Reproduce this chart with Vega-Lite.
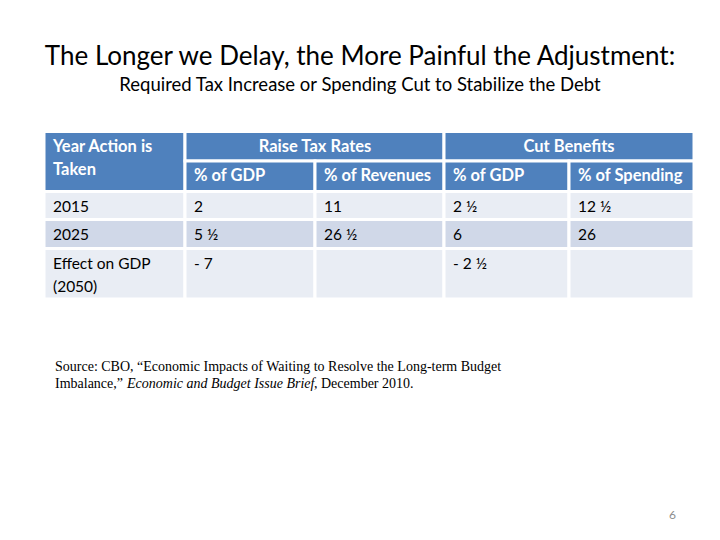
{
  "$schema": "https://vega.github.io/schema/vega-lite/v6.json",
  "width": 720,
  "height": 440,
  "autosize": "none",
  "padding": {"top": 100, "left": 0, "right": 0, "bottom": 0},
  "background": "white",
  "config": {"view": {"stroke": null}, "font": "Lato"},
  "title": {
    "text": "The Longer we Delay, the More Painful the Adjustment:",
    "subtitle": "Required Tax Increase or Spending Cut to Stabilize the Debt",
    "anchor": "middle",
    "frame": "group",
    "font": "Lato",
    "fontSize": 26,
    "fontWeight": "normal",
    "color": "#000000",
    "subtitleFont": "Lato",
    "subtitleFontSize": 18.5,
    "subtitleColor": "#000000",
    "subtitlePadding": 6,
    "offset": 6
  },
  "datasets": {
    "cells": [
      {"r0": 0, "r1": 2, "c0": 0, "c1": 1, "cx": 0, "band": "head", "pos": "left", "label": ["Year Action is", "Taken"]},
      {"r0": 0, "r1": 1, "c0": 1, "c1": 3, "cx": 2, "band": "head", "pos": "center", "label": "Raise Tax Rates"},
      {"r0": 0, "r1": 1, "c0": 3, "c1": 5, "cx": 4, "band": "head", "pos": "center", "label": "Cut Benefits"},
      {"r0": 1, "r1": 2, "c0": 1, "c1": 2, "cx": 1, "band": "head", "pos": "left", "label": "% of GDP"},
      {"r0": 1, "r1": 2, "c0": 2, "c1": 3, "cx": 2, "band": "head", "pos": "left", "label": "% of Revenues"},
      {"r0": 1, "r1": 2, "c0": 3, "c1": 4, "cx": 3, "band": "head", "pos": "left", "label": "% of GDP"},
      {"r0": 1, "r1": 2, "c0": 4, "c1": 5, "cx": 4, "band": "head", "pos": "left", "label": "% of Spending"},
      {"r0": 2, "r1": 3, "c0": 0, "c1": 1, "cx": 0, "band": "light", "pos": "left", "label": "2015"},
      {"r0": 2, "r1": 3, "c0": 1, "c1": 2, "cx": 1, "band": "light", "pos": "left", "label": "2"},
      {"r0": 2, "r1": 3, "c0": 2, "c1": 3, "cx": 2, "band": "light", "pos": "left", "label": "11"},
      {"r0": 2, "r1": 3, "c0": 3, "c1": 4, "cx": 3, "band": "light", "pos": "left", "label": "2 ½"},
      {"r0": 2, "r1": 3, "c0": 4, "c1": 5, "cx": 4, "band": "light", "pos": "left", "label": "12 ½"},
      {"r0": 3, "r1": 4, "c0": 0, "c1": 1, "cx": 0, "band": "dark", "pos": "left", "label": "2025"},
      {"r0": 3, "r1": 4, "c0": 1, "c1": 2, "cx": 1, "band": "dark", "pos": "left", "label": "5 ½"},
      {"r0": 3, "r1": 4, "c0": 2, "c1": 3, "cx": 2, "band": "dark", "pos": "left", "label": "26 ½"},
      {"r0": 3, "r1": 4, "c0": 3, "c1": 4, "cx": 3, "band": "dark", "pos": "left", "label": "6"},
      {"r0": 3, "r1": 4, "c0": 4, "c1": 5, "cx": 4, "band": "dark", "pos": "left", "label": "26"},
      {"r0": 4, "r1": 5, "c0": 0, "c1": 1, "cx": 0, "band": "light", "pos": "left", "label": ["Effect on GDP", "(2050)"]},
      {"r0": 4, "r1": 5, "c0": 1, "c1": 2, "cx": 1, "band": "light", "pos": "left", "label": "- 7"},
      {"r0": 4, "r1": 5, "c0": 2, "c1": 3, "cx": 2, "band": "light", "pos": "left", "label": ""},
      {"r0": 4, "r1": 5, "c0": 3, "c1": 4, "cx": 3, "band": "light", "pos": "left", "label": "- 2 ½"},
      {"r0": 4, "r1": 5, "c0": 4, "c1": 5, "cx": 4, "band": "light", "pos": "left", "label": ""}
    ],
    "notes": [
      {"line": 6, "col": 0, "seg": "a", "label": "Source:  CBO, “Economic Impacts of Waiting to Resolve the Long-term Budget"},
      {"line": 7, "col": 0, "seg": "a", "label": "Imbalance,”"},
      {"line": 7, "col": 0, "seg": "b", "label": "Economic and Budget Issue Brief"},
      {"line": 7, "col": 0, "seg": "c", "label": ", December 2010."},
      {"line": 8, "col": 5, "seg": "page", "label": "6"}
    ]
  },
  "resolve": {"scale": {"x": "shared", "y": "shared"}},
  "layer": [
    {
      "data": {"name": "cells"},
      "mark": {"type": "rect", "stroke": "white", "strokeWidth": 3},
      "encoding": {
        "x": {"field": "c0", "type": "quantitative", "axis": null,
              "scale": {"domain": [0, 1, 2, 3, 4, 5], "range": [44, 185, 315, 444, 569, 694], "zero": false, "nice": false}},
        "x2": {"field": "c1"},
        "y": {"field": "r0", "type": "quantitative", "axis": null,
              "scale": {"domain": [0, 1, 2, 3, 4, 5, 6, 7, 8], "range": [31.5, 61, 91.5, 119.5, 148.5, 199, 271, 288, 419], "zero": false, "nice": false}},
        "y2": {"field": "r1"},
        "color": {"field": "band", "type": "nominal", "legend": null,
                  "scale": {"domain": ["head", "light", "dark"], "range": ["#4F81BD", "#E9EDF4", "#D0D8E8"]}}
      }
    },
    {
      "data": {"name": "cells"},
      "transform": [{"filter": "datum.band === 'head' && datum.pos === 'left'"}],
      "mark": {"type": "text", "align": "left", "baseline": "alphabetic", "dx": 9, "dy": 20, "fontSize": 16.5, "fontWeight": "bold", "color": "white", "lineHeight": 23, "font": "Lato"},
      "encoding": {
        "x": {"field": "c0", "type": "quantitative"},
        "y": {"field": "r0", "type": "quantitative"},
        "text": {"field": "label"}
      }
    },
    {
      "data": {"name": "cells"},
      "transform": [{"filter": "datum.pos === 'center'"}],
      "mark": {"type": "text", "align": "center", "baseline": "alphabetic", "dy": 20, "fontSize": 16.5, "fontWeight": "bold", "color": "white", "font": "Lato"},
      "encoding": {
        "x": {"field": "cx", "type": "quantitative"},
        "y": {"field": "r0", "type": "quantitative"},
        "text": {"field": "label"}
      }
    },
    {
      "data": {"name": "cells"},
      "transform": [{"filter": "datum.band !== 'head'"}],
      "mark": {"type": "text", "align": "left", "baseline": "alphabetic", "dx": 9, "dy": 20, "fontSize": 15.5, "color": "#000000", "lineHeight": 23, "font": "Lato"},
      "encoding": {
        "x": {"field": "c0", "type": "quantitative"},
        "y": {"field": "r0", "type": "quantitative"},
        "text": {"field": "label"}
      }
    },
    {
      "data": {"name": "notes"},
      "transform": [{"filter": "datum.seg === 'a'"}],
      "mark": {"type": "text", "align": "left", "baseline": "alphabetic", "dx": 11, "fontSize": 14, "color": "#000000", "font": "Liberation Serif"},
      "encoding": {
        "x": {"field": "col", "type": "quantitative"},
        "y": {"field": "line", "type": "quantitative"},
        "text": {"field": "label"}
      }
    },
    {
      "data": {"name": "notes"},
      "transform": [{"filter": "datum.seg === 'b'"}],
      "mark": {"type": "text", "align": "left", "baseline": "alphabetic", "dx": 83, "fontSize": 14, "fontStyle": "italic", "color": "#000000", "font": "Liberation Serif"},
      "encoding": {
        "x": {"field": "col", "type": "quantitative"},
        "y": {"field": "line", "type": "quantitative"},
        "text": {"field": "label"}
      }
    },
    {
      "data": {"name": "notes"},
      "transform": [{"filter": "datum.seg === 'c'"}],
      "mark": {"type": "text", "align": "left", "baseline": "alphabetic", "dx": 270, "fontSize": 14, "color": "#000000", "font": "Liberation Serif"},
      "encoding": {
        "x": {"field": "col", "type": "quantitative"},
        "y": {"field": "line", "type": "quantitative"},
        "text": {"field": "label"}
      }
    },
    {
      "data": {"name": "notes"},
      "transform": [{"filter": "datum.seg === 'page'"}],
      "mark": {"type": "text", "align": "right", "baseline": "alphabetic", "dx": -18, "fontSize": 12, "color": "#8C8C8C", "font": "Lato"},
      "encoding": {
        "x": {"field": "col", "type": "quantitative"},
        "y": {"field": "line", "type": "quantitative"},
        "text": {"field": "label"}
      }
    }
  ]
}
